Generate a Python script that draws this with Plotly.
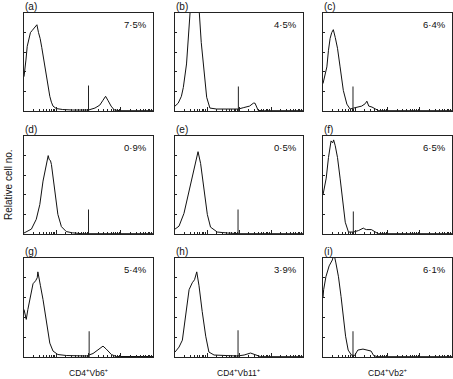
import numpy as np
import plotly.graph_objects as go

# ---- data (x in log decades 0..4, y in % of panel height) ----
panel_labels = ["(a)", "(b)", "(c)", "(d)", "(e)", "(f)", "(g)", "(h)", "(i)"]
percent_labels = ["7·5%", "4·5%", "6·4%", "0·9%", "0·5%", "6·5%", "5·4%", "3·9%", "6·1%"]
x_titles = ["CD4<sup>+</sup>Vb6<sup>+</sup>", "CD4<sup>+</sup>Vb11<sup>+</sup>", "CD4<sup>+</sup>Vb2<sup>+</sup>"]

a_x = [0, 0.03, 0.06, 0.1, 0.15, 0.2, 0.25, 0.3, 0.35, 0.4, 0.45, 0.5, 0.55, 0.6, 0.65, 0.7, 0.75, 0.8, 0.85, 0.9, 1.0, 1.2, 1.5, 2.0, 2.2, 2.35, 2.45, 2.53, 2.6, 2.7, 2.8, 3.0, 4.0]
a_y = [35, 42, 52, 66, 75, 80, 82, 84, 85, 88, 80, 74, 65, 55, 45, 35, 24, 15, 9, 5, 2.5, 1.5, 1, 1, 3, 6, 11, 15, 11, 5, 1, 0.3, 0.3]

b_x = [0, 0.1, 0.2, 0.26, 0.36, 0.42, 0.47, 0.6, 0.76, 0.82, 0.89, 0.99, 1.09, 1.3, 1.6, 1.98, 2.15, 2.33, 2.45, 2.5, 2.6, 2.8, 4.0]
b_y = [5, 8, 15, 24, 48, 75, 100, 140, 100, 70, 45, 14, 3, 2, 2, 2, 3.5, 5, 8, 8, 0.5, 0.3, 0.3]

c_x = [0, 0.06, 0.12, 0.17, 0.22, 0.27, 0.32, 0.38, 0.45, 0.53, 0.63, 0.74, 0.84, 0.95, 1.1, 1.2, 1.31, 1.36, 1.42, 1.52, 1.63, 1.73, 4.0]
c_y = [28, 36, 45, 62, 74, 80, 83, 75, 64, 45, 21, 7, 2, 3, 4, 5, 7.5, 10, 5, 4, 2, 0.3, 0.3]

d_x = [0, 0.23, 0.38, 0.49, 0.59, 0.69, 0.75, 0.78, 0.82, 0.85, 0.95, 1.05, 1.16, 1.31, 1.5, 1.8, 4.0]
d_y = [1, 5, 15, 30, 54, 71, 80, 76, 75, 71, 46, 20, 7.5, 2.5, 1.2, 0.3, 0.3]

e_x = [0, 0.125, 0.28, 0.44, 0.54, 0.65, 0.72, 0.8, 0.91, 1.01, 1.11, 1.32, 1.64, 2.0, 4.0]
e_y = [5, 8, 21, 44, 57, 75, 84, 72, 43, 20, 7, 2, 1, 0.3, 0.3]

f_x = [0, 0.02, 0.1, 0.17, 0.25, 0.3, 0.33, 0.38, 0.45, 0.53, 0.62, 0.69, 0.79, 0.94, 1.1, 1.25, 1.3, 1.35, 1.5, 1.61, 1.71, 4.0]
f_y = [40, 43, 57, 78, 95, 93, 96, 90, 78, 57, 33, 12, 2, 2, 3.5, 6, 5, 4.5, 4.5, 2, 0.3, 0.3]

g_x = [0, 0.04, 0.07, 0.12, 0.18, 0.28, 0.36, 0.41, 0.43, 0.46, 0.51, 0.59, 0.69, 0.8, 0.9, 1.05, 1.31, 1.93, 2.14, 2.35, 2.45, 2.55, 2.71, 2.86, 4.0]
g_y = [48, 42, 38, 48, 58, 74, 77, 80, 86, 79, 72, 58, 35, 14, 6, 2.5, 1.5, 1, 3.5, 9, 11, 8, 2.5, 0.5, 0.5]

h_x = [0, 0.125, 0.23, 0.33, 0.44, 0.54, 0.61, 0.68, 0.75, 0.85, 0.96, 1.06, 1.22, 1.95, 2.16, 2.36, 2.52, 2.68, 4.0]
h_y = [5, 10, 17, 41, 68, 75, 78, 86, 72, 46, 21, 5, 2, 1, 2, 4, 2, 0.3, 0.3]

i_x = [0, 0.02, 0.09, 0.19, 0.29, 0.34, 0.4, 0.48, 0.56, 0.63, 0.7, 0.78, 0.88, 0.98, 1.08, 1.24, 1.39, 1.49, 1.57, 1.69, 4.0]
i_y = [60, 68, 81, 92, 98, 104, 95, 81, 61, 41, 21, 7, 2, 1.5, 7, 8, 7, 6, 1.5, 0.3, 0.3]

curves_x = [a_x, b_x, c_x, d_x, e_x, f_x, g_x, h_x, i_x]
curves_y = [a_y, b_y, c_y, d_y, e_y, f_y, g_y, h_y, i_y]

marker_pos = [2.0, 1.98, 0.93, 2.0, 1.97, 0.94, 2.02, 1.97, 0.93]
marker_height = [26, 25, 25, 25, 25, 23, 26, 27, 26]

# ---- layout geometry ----
W, H = 453, 379
col_px = [(24, 153), (175, 303), (323, 452)]
row_px = [(13, 111), (136, 234), (258, 357)]

fig = go.Figure()
major = [0, 1, 2, 3, 4]
minor = [d + np.log10(k) for d in range(4) for k in range(2, 10)]

for idx in range(9):
    r, c = divmod(idx, 3)
    n = idx + 1
    xa = "x" if n == 1 else f"x{n}"
    ya = "y" if n == 1 else f"y{n}"
    fig.add_trace(go.Scatter(x=curves_x[idx], y=curves_y[idx], mode="lines",
                             line=dict(color="#111111", width=1), xaxis=xa, yaxis=ya,
                             showlegend=False, hoverinfo="skip"))
    fig.add_trace(go.Scatter(x=[marker_pos[idx], marker_pos[idx]], y=[0, marker_height[idx]],
                             mode="lines", line=dict(color="#222222", width=1),
                             xaxis=xa, yaxis=ya, showlegend=False, hoverinfo="skip"))
    x0, x1 = col_px[c]
    y0, y1 = row_px[r]
    xkey = "xaxis" if n == 1 else f"xaxis{n}"
    ykey = "yaxis" if n == 1 else f"yaxis{n}"
    fig.layout[xkey] = dict(domain=[x0 / W, x1 / W], anchor=ya, range=[0, 4],
                            showgrid=False, zeroline=False, showline=True, mirror=True,
                            linecolor="#222", linewidth=1, ticks="inside", ticklen=4,
                            tickcolor="#222", tickvals=major, showticklabels=False,
                            minor=dict(tickvals=minor, ticks="inside", ticklen=2, tickcolor="#222"))
    fig.layout[ykey] = dict(domain=[1 - y1 / H, 1 - y0 / H], anchor=xa, range=[0, 100],
                            showgrid=False, zeroline=False, showline=True, mirror=True,
                            linecolor="#222", linewidth=1, ticks="inside", ticklen=2,
                            tickcolor="#222", tickvals=[20, 40, 60, 80], showticklabels=False)
    fig.add_annotation(text=percent_labels[idx], xref=f"{xa} domain", yref=f"{ya} domain",
                       x=0.97, y=0.88, xanchor="right", yanchor="middle", showarrow=False,
                       font=dict(size=9.5, color="#111"))
    fig.add_annotation(text=panel_labels[idx], xref="paper", yref="paper",
                       x=(x0 - 1) / W, y=1 - (y0 - 7) / H, xanchor="left", yanchor="middle",
                       showarrow=False, font=dict(size=10, color="#111"))

for c in range(3):
    x0, x1 = col_px[c]
    fig.add_annotation(text=x_titles[c], xref="paper", yref="paper",
                       x=(x0 + x1) / 2 / W, y=1 - 372 / H, xanchor="center", yanchor="middle",
                       showarrow=False, font=dict(size=8.5, color="#111"))

fig.add_annotation(text="Relative cell no.", xref="paper", yref="paper", x=8 / W, y=1 - 185 / H,
                   textangle=-90, xanchor="center", yanchor="middle", showarrow=False,
                   font=dict(size=10, color="#111"))

fig.update_layout(width=W, height=H, margin=dict(l=0, r=0, t=0, b=0),
                  paper_bgcolor="white", plot_bgcolor="white",
                  font=dict(family="Liberation Sans, Arial, sans-serif"))
fig.write_html("out.html", config={"displayModeBar": False},
               post_script="document.body.style.margin='0px';document.body.style.overflow='hidden';")
